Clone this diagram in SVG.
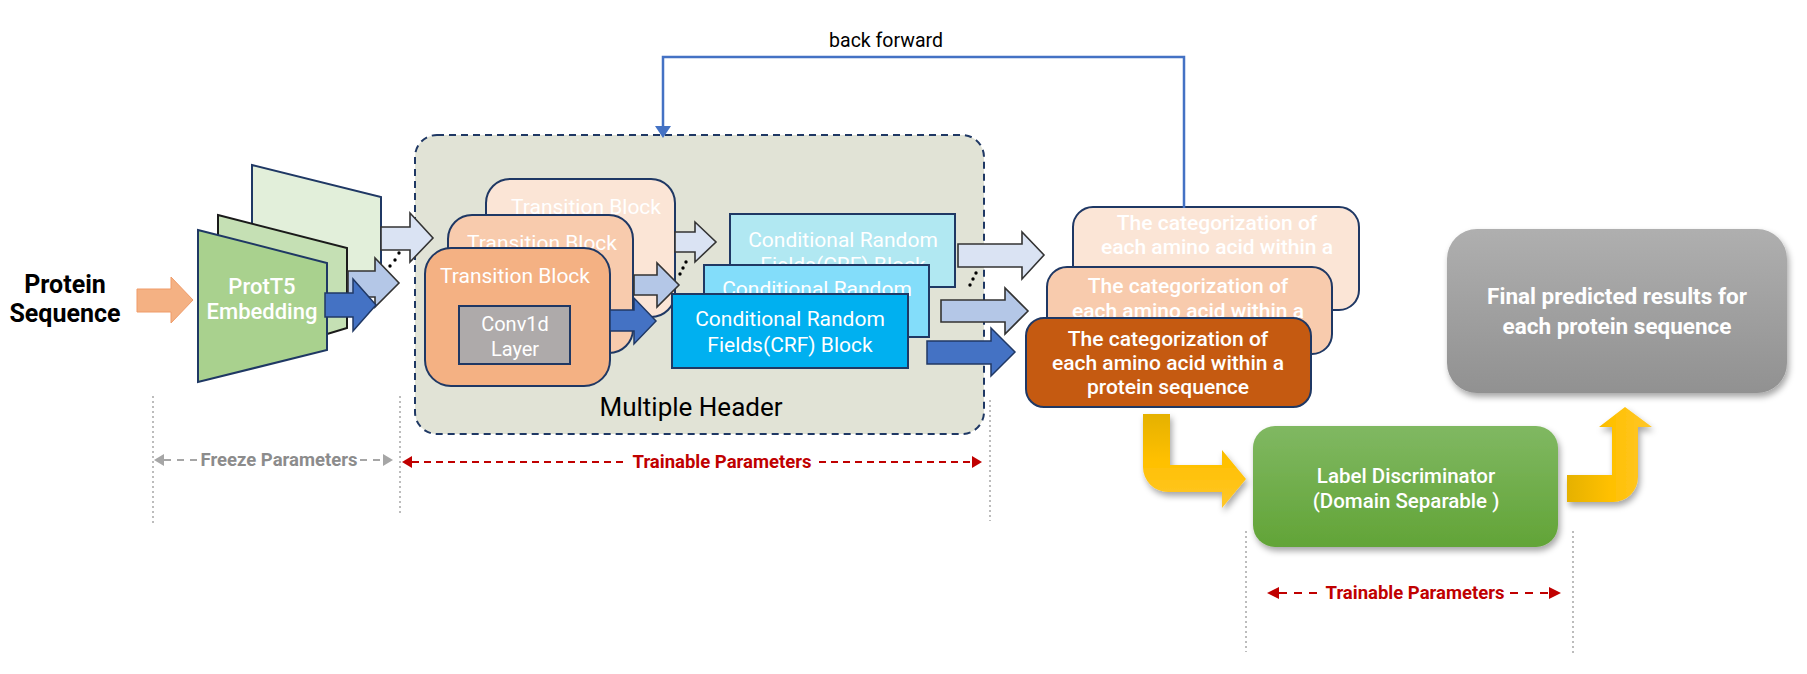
<svg xmlns="http://www.w3.org/2000/svg" width="1807" height="674" viewBox="0 0 1807 674">
<defs>
<style>
text{font-family:Roboto,"Liberation Sans",sans-serif}
.wt{fill:#fff;text-anchor:middle}
.nv{stroke:#1F3864;stroke-width:2}
.a1{fill:#DAE3F3;stroke:#333;stroke-width:1.6}
.a2{fill:#B4C7E7;stroke:#333;stroke-width:1.6}
.a3{fill:#4472C4;stroke:#203864;stroke-width:1.5}
.dot{fill:#000}
.vd{stroke:#A6A6A6;stroke-width:1.5;stroke-dasharray:2 3;fill:none}
.par{font-weight:bold;font-size:18.5px;text-anchor:middle}
.tb{font-size:21px}
.crf{font-size:21px}
.cat{font-size:21px;font-weight:500}
</style>
<linearGradient id="gGray" x1="0" y1="0" x2="0" y2="1"><stop offset="0" stop-color="#AFAFAF"/><stop offset="1" stop-color="#919191"/></linearGradient>
<linearGradient id="gGreen" x1="0" y1="0" x2="0" y2="1"><stop offset="0" stop-color="#80B862"/><stop offset="1" stop-color="#62A437"/></linearGradient>
<linearGradient id="gY1" x1="0" y1="0" x2="0" y2="1"><stop offset="0" stop-color="#E5B100"/><stop offset="0.5" stop-color="#FFC000"/><stop offset="1" stop-color="#FFC72C"/></linearGradient>
<linearGradient id="gY2" x1="0" y1="0" x2="1" y2="0"><stop offset="0" stop-color="#E5B100"/><stop offset="0.5" stop-color="#FFC000"/><stop offset="1" stop-color="#FFC72C"/></linearGradient>
<filter id="sh" x="-20%" y="-20%" width="140%" height="150%"><feDropShadow dx="2" dy="4" stdDeviation="3" flood-color="#000" flood-opacity="0.35"/></filter>
</defs>
<rect width="1807" height="674" fill="#fff"/>

<g id="container">
<rect x="415" y="135" width="569" height="299" rx="22" fill="#E1E3D6" stroke="#1F3864" stroke-width="2" stroke-dasharray="7 5"/>
<text x="691" y="416" font-size="26" text-anchor="middle" fill="#000">Multiple Header</text>
</g>

<g id="protein-seq">
<text x="65" y="293" font-size="25" font-weight="bold" text-anchor="middle" fill="#000">Protein</text>
<text x="65" y="322" font-size="25" font-weight="bold" text-anchor="middle" fill="#000">Sequence</text>
</g>

<g id="prott5">
<polygon points="252,165 381,197 381,277 252,309" fill="#E2EFDA" class="nv"/>
<polygon points="218,215 347,248 347,328 218,367" fill="#C5E0B4" stroke="#1a1a1a" stroke-width="2"/>
<polygon points="198,230 327,263 327,350 198,382" fill="#A9D18E" class="nv"/>
<text x="262" y="294" font-size="22" class="wt" font-weight="500">ProtT5</text>
<text x="262" y="319" font-size="22" class="wt" font-weight="500">Embedding</text>
</g>

<g id="transition-blocks">
<rect x="486" y="179" width="189" height="138" rx="24" fill="#FBE5D6" class="nv"/>
<text x="586" y="214" class="wt tb">Transition Block</text>
<rect x="448" y="215" width="185" height="138" rx="24" fill="#F8CBAD" class="nv"/>
<text x="542" y="250" class="wt tb">Transition Block</text>
<rect x="425" y="248" width="185" height="138" rx="26" fill="#F4B183" class="nv"/>
<text x="515" y="283" class="wt tb">Transition Block</text>
</g>

<g id="conv1d">
<rect x="459" y="306" width="111" height="58" fill="#AEAAAA" class="nv"/>
<text x="515" y="331" font-size="20" class="wt">Conv1d</text>
<text x="515" y="356" font-size="20" class="wt">Layer</text>
</g>

<g id="crf-blocks">
<rect x="730" y="214" width="225" height="73" fill="#B1E8F2" class="nv"/>
<text x="843" y="247" class="wt crf">Conditional Random</text>
<text x="843" y="272" class="wt crf">Fields(CRF) Block</text>
<rect x="704" y="265" width="225" height="72" fill="#83DDFA" class="nv"/>
<text x="817" y="296" class="wt crf">Conditional Random</text>
<rect x="672" y="294" width="236" height="74" fill="#00B0F0" class="nv"/>
<text x="790" y="326" class="wt crf">Conditional Random</text>
<text x="790" y="352" class="wt crf">Fields(CRF) Block</text>
</g>

<g id="categorization">
<rect x="1073" y="207" width="286" height="103" rx="20" fill="#FBE5D6" class="nv"/>
<text x="1217" y="230" class="wt cat">The categorization of</text>
<text x="1217" y="254" class="wt cat">each amino acid within a</text>
<rect x="1047" y="267" width="285" height="87" rx="20" fill="#F8CBAD" class="nv"/>
<text x="1188" y="293" class="wt cat">The categorization of</text>
<text x="1188" y="318" class="wt cat">each amino acid within a</text>
<rect x="1026" y="318" width="285" height="89" rx="18" fill="#C55A11" class="nv"/>
<text x="1168" y="346" class="wt cat">The categorization of</text>
<text x="1168" y="370" class="wt cat">each amino acid within a</text>
<text x="1168" y="394" class="wt cat">protein sequence</text>
</g>

<g id="final-results">
<rect x="1447" y="229" width="340" height="164" rx="30" fill="url(#gGray)" filter="url(#sh)"/>
<text x="1617" y="304" font-size="22.5" font-weight="bold" class="wt">Final predicted results for</text>
<text x="1617" y="334" font-size="22.5" font-weight="bold" class="wt">each protein sequence</text>
</g>

<g id="label-discriminator">
<rect x="1253" y="426" width="305" height="121" rx="22" fill="url(#gGreen)" filter="url(#sh)"/>
<text x="1406" y="483" font-size="20.5" font-weight="500" class="wt">Label Discriminator</text>
<text x="1406" y="508" font-size="20.5" font-weight="500" class="wt">(Domain Separable )</text>
</g>

<g id="connectors">
<polygon points="137,289 171,289 171,277 193,300 171,323 171,312 137,312" fill="#F4B183" stroke="#EF9B69" stroke-width="1"/>

<polygon class="a1" points="381,227 410,227 410,213 433,238 410,262 410,250 381,250"/>
<polygon class="a2" points="348,271 375,271 375,258 399,283 375,307 375,297 348,297"/>
<polygon class="a3" points="325,293 353,293 353,279 376,305 353,331 353,317 325,317"/>
<circle class="dot" cx="399" cy="253" r="1.7"/><circle class="dot" cx="395" cy="260" r="1.7"/><circle class="dot" cx="390" cy="266" r="1.7"/>

<polygon class="a1" points="675,232 695,232 695,222 716,242 695,262 695,252 675,252"/>
<polygon class="a2" points="634,275 657,275 657,263 679,285 657,307 657,295 634,295"/>
<polygon class="a3" points="610,310 634,310 634,298 656,321 634,344 634,331 610,331"/>
<circle class="dot" cx="686" cy="262" r="1.7"/><circle class="dot" cx="683" cy="268" r="1.7"/><circle class="dot" cx="680" cy="274" r="1.7"/>

<polygon class="a1" points="958,244 1022,244 1022,232 1044,255 1022,279 1022,267 958,267"/>
<polygon class="a2" points="941,300 1005,300 1005,288 1028,311 1005,334 1005,322 941,322"/>
<polygon class="a3" points="927,341 991,341 991,328 1015,352 991,376 991,364 927,364"/>
<circle class="dot" cx="976" cy="273" r="1.7"/><circle class="dot" cx="973" cy="279" r="1.7"/><circle class="dot" cx="970" cy="285" r="1.7"/>

<polyline points="1184,208 1184,57 663,57 663,127" fill="none" stroke="#4472C4" stroke-width="2.5"/>
<polygon points="655,126 671,126 663,138" fill="#4472C4"/>
<text x="886" y="47" font-size="19.5" text-anchor="middle" fill="#000">back forward</text>

<path d="M1143,414 H1170 V465 H1222 V450 L1246,479 L1222,508 V492 H1168 A25,25 0 0 1 1143,467 Z" fill="url(#gY1)" filter="url(#sh)"/>
<path d="M1567,475 H1612 V427 H1599 L1625,407 L1652,427 H1638 V477 A25,25 0 0 1 1613,502 H1567 Z" fill="url(#gY2)" filter="url(#sh)"/>

<line class="vd" x1="153" y1="396" x2="153" y2="524"/>
<line class="vd" x1="400" y1="396" x2="400" y2="515"/>
<line class="vd" x1="990" y1="400" x2="990" y2="521"/>
<line class="vd" x1="1246" y1="531" x2="1246" y2="652"/>
<line class="vd" x1="1573" y1="531" x2="1573" y2="655"/>

<polygon points="154,460 164,454 164,466" fill="#A6A6A6"/>
<line x1="164" y1="460" x2="200" y2="460" stroke="#A6A6A6" stroke-width="2" stroke-dasharray="7 6"/>
<text x="279" y="466" class="par" fill="#8C8C8C">Freeze Parameters</text>
<line x1="360" y1="460" x2="384" y2="460" stroke="#A6A6A6" stroke-width="2" stroke-dasharray="7 6"/>
<polygon points="393,460 383,454 383,466" fill="#A6A6A6"/>

<polygon points="402,462 412,456 412,468" fill="#C00000"/>
<line x1="412" y1="462" x2="626" y2="462" stroke="#C00000" stroke-width="2" stroke-dasharray="7 5"/>
<text x="722" y="468" class="par" fill="#C00000">Trainable Parameters</text>
<line x1="819" y1="462" x2="973" y2="462" stroke="#C00000" stroke-width="2" stroke-dasharray="7 5"/>
<polygon points="982,462 972,456 972,468" fill="#C00000"/>

<polygon points="1267,593 1279,587 1279,599" fill="#C00000"/>
<line x1="1279" y1="593" x2="1320" y2="593" stroke="#C00000" stroke-width="2" stroke-dasharray="8 7"/>
<text x="1415" y="599" class="par" fill="#C00000">Trainable Parameters</text>
<line x1="1510" y1="593" x2="1550" y2="593" stroke="#C00000" stroke-width="2" stroke-dasharray="8 7"/>
<polygon points="1561,593 1549,587 1549,599" fill="#C00000"/>
</g>
</svg>
